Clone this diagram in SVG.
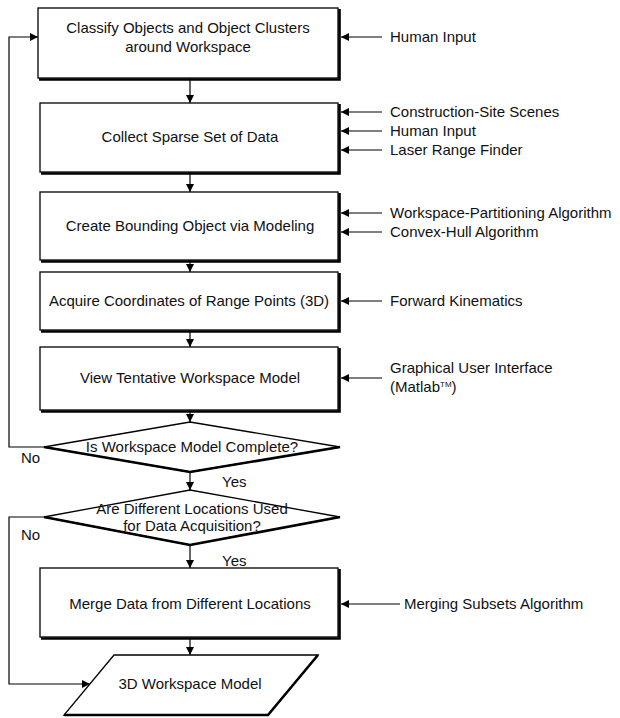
<svg xmlns="http://www.w3.org/2000/svg" width="620" height="718" viewBox="0 0 620 718">
  <style>
    .box { fill: #fff; stroke: #000; stroke-width: 1.3; }
    .shadow { fill: none; stroke: #000; stroke-width: 2.6; }
    .line { fill: none; stroke: #000; stroke-width: 1.2; }
    .t { font-family: "Liberation Sans", Arial, sans-serif; font-size: 15px; fill: #111; }
    .c { text-anchor: middle; }
  </style>
  <defs>
    <marker id="arrow" viewBox="0 0 10 10" refX="10" refY="5" markerWidth="8" markerHeight="8" markerUnits="userSpaceOnUse" orient="auto">
      <path d="M0,0 L10,5 L0,10 Z" fill="#000"/>
    </marker>
  </defs>

  <rect width="620" height="718" fill="#fff"/>

  <!-- connectors -->
  <g id="connectors">
    <!-- main flow -->
    <path class="line" d="M190,78 V103" marker-end="url(#arrow)"/>
    <path class="line" d="M190,172 V192" marker-end="url(#arrow)"/>
    <path class="line" d="M190,260 V272" marker-end="url(#arrow)"/>
    <path class="line" d="M190,330 V347" marker-end="url(#arrow)"/>
    <path class="line" d="M190,410 V422" marker-end="url(#arrow)"/>
    <path class="line" d="M190,472 V490" marker-end="url(#arrow)"/>
    <path class="line" d="M190,545 V568" marker-end="url(#arrow)"/>
    <path class="line" d="M190,637 V655" marker-end="url(#arrow)"/>
    <!-- loops on the left -->
    <path class="line" d="M44,447 H9 V37 H38" marker-end="url(#arrow)"/>
    <path class="line" d="M44,517 H9 V684 H90" marker-end="url(#arrow)"/>
    <!-- inputs on the right -->
    <path class="line" d="M382,37 H341" marker-end="url(#arrow)"/>
    <path class="line" d="M382,112 H341" marker-end="url(#arrow)"/>
    <path class="line" d="M382,131 H341" marker-end="url(#arrow)"/>
    <path class="line" d="M382,150 H341" marker-end="url(#arrow)"/>
    <path class="line" d="M382,213 H341" marker-end="url(#arrow)"/>
    <path class="line" d="M382,232 H341" marker-end="url(#arrow)"/>
    <path class="line" d="M382,301 H341" marker-end="url(#arrow)"/>
    <path class="line" d="M382,378 H341" marker-end="url(#arrow)"/>
    <path class="line" d="M400,604 H341" marker-end="url(#arrow)"/>
    <!-- branch labels -->
    <text class="t" x="21" y="463">No</text>
    <text class="t" x="222" y="487">Yes</text>
    <text class="t" x="21" y="540">No</text>
    <text class="t" x="222" y="566">Yes</text>
  </g>

  <g id="classify">
    <rect class="box" x="38" y="8" width="300" height="70"/>
    <path class="shadow" d="M339.5,9 V79.5 H39"/>
    <text class="t c" x="188" y="33">Classify Objects and Object Clusters</text>
    <text class="t c" x="188" y="52">around Workspace</text>
    <text class="t" x="390" y="42">Human Input</text>
  </g>

  <g id="collect">
    <rect class="box" x="40" y="103" width="298" height="69"/>
    <path class="shadow" d="M339.5,104 V173.5 H41"/>
    <text class="t c" x="190" y="142">Collect Sparse Set of Data</text>
    <text class="t" x="390" y="117">Construction-Site Scenes</text>
    <text class="t" x="390" y="136">Human Input</text>
    <text class="t" x="390" y="155">Laser Range Finder</text>
  </g>

  <g id="bounding">
    <rect class="box" x="40" y="192" width="298" height="68"/>
    <path class="shadow" d="M339.5,193 V261.5 H41"/>
    <text class="t c" x="190" y="231">Create Bounding Object via Modeling</text>
    <text class="t" x="390" y="218">Workspace-Partitioning Algorithm</text>
    <text class="t" x="390" y="237">Convex-Hull Algorithm</text>
  </g>

  <g id="acquire">
    <rect class="box" x="40" y="272" width="298" height="58"/>
    <path class="shadow" d="M339.5,273 V331.5 H41"/>
    <text class="t c" x="189" y="306">Acquire Coordinates of Range Points (3D)</text>
    <text class="t" x="390" y="306">Forward Kinematics</text>
  </g>

  <g id="view">
    <rect class="box" x="40" y="347" width="298" height="63"/>
    <path class="shadow" d="M339.5,348 V411.5 H41"/>
    <text class="t c" x="190" y="383">View Tentative Workspace Model</text>
    <text class="t" x="390" y="373">Graphical User Interface</text>
    <text class="t" x="390" y="392">(Matlab<tspan font-size="8" dy="-5">TM</tspan><tspan dy="5">)</tspan></text>
  </g>

  <g id="complete">
    <path class="box" d="M44,447 L190,422 L340,447 L190,472 Z"/>
    <path class="shadow" d="M44,447 L190,472 L340,447"/>
    <text class="t c" x="192" y="452">Is Workspace Model Complete?</text>
  </g>

  <g id="locations">
    <path class="box" d="M44,517 L190,490 L340,517 L190,545 Z"/>
    <path class="shadow" d="M44,517 L190,545 L340,517"/>
    <text class="t c" x="192" y="514">Are Different Locations Used</text>
    <text class="t c" x="192" y="531">for Data Acquisition?</text>
  </g>

  <g id="merge">
    <rect class="box" x="40" y="568" width="298" height="69"/>
    <path class="shadow" d="M339.5,569 V638.5 H41"/>
    <text class="t c" x="190" y="609">Merge Data from Different Locations</text>
    <text class="t" x="404" y="609">Merging Subsets Algorithm</text>
  </g>

  <g id="model">
    <path class="box" d="M114,655 L318,655 L268,715 L64,715 Z"/>
    <path class="shadow" d="M318,655 L268,715 L64,715"/>
    <text class="t c" x="190" y="689">3D Workspace Model</text>
  </g>
</svg>
